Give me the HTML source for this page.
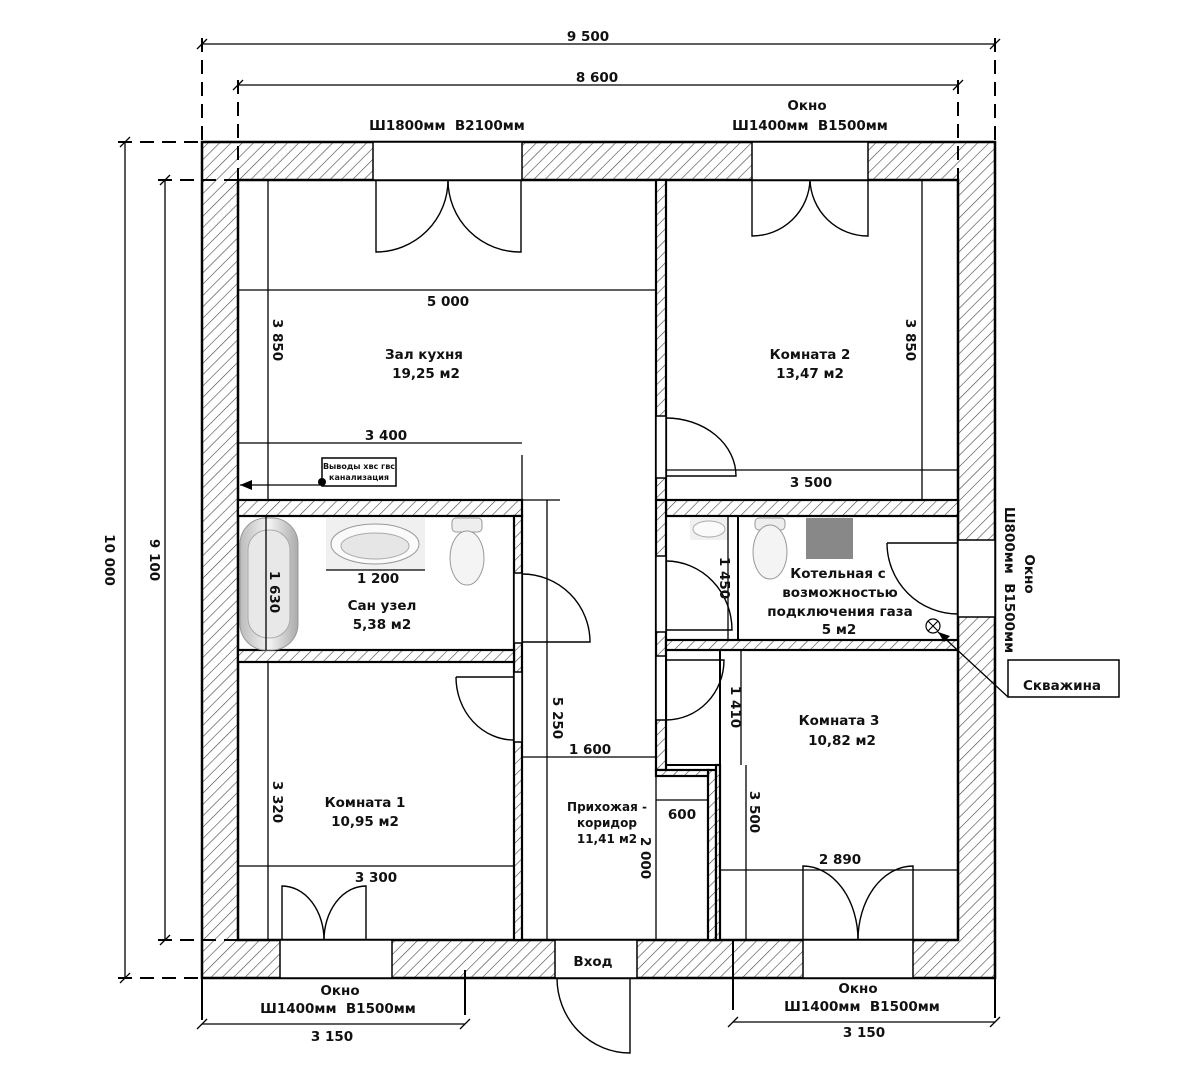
<!DOCTYPE html>
<html><head><meta charset="utf-8"><style>
html,body{margin:0;padding:0;background:#fff;}
svg{display:block;}
text{font-family:"DejaVu Sans","Liberation Sans",sans-serif;font-weight:bold;font-size:13.5px;fill:#111;white-space:pre;}
</style></head><body>
<svg width="1178" height="1080" viewBox="0 0 1178 1080" xmlns="http://www.w3.org/2000/svg">
<defs>
<pattern id="h" width="8" height="8" patternUnits="userSpaceOnUse" patternTransform="rotate(45)">
<rect width="8" height="8" fill="#fff"/><line x1="0" y1="0" x2="0" y2="8" stroke="#444" stroke-width="1.2"/>
</pattern>
<linearGradient id="tub" x1="0" x2="1"><stop offset="0" stop-color="#bbb"/><stop offset=".5" stop-color="#f4f4f4"/><stop offset="1" stop-color="#aaa"/></linearGradient>
</defs>

<path d="M202 142 H995 V978 H202 Z M238 180 V940 H958 V180 Z" fill="url(#h)" fill-rule="evenodd" stroke="#000" stroke-width="2.5"/>
<g fill="url(#h)" stroke="#000" stroke-width="2.2">
<rect x="656" y="180" width="10" height="320"/>
<rect x="238" y="500" width="284" height="16"/>
<rect x="514" y="516" width="8" height="424"/>
<rect x="238" y="650" width="276" height="12"/>
<rect x="666" y="500" width="292" height="16"/>
<rect x="656" y="500" width="10" height="270"/>
<rect x="666" y="640" width="292" height="10"/>
<rect x="708" y="770" width="8" height="170"/>
<rect x="656" y="770" width="52" height="6"/>
<rect x="716" y="765" width="4" height="175"/>
</g>
<g fill="#fff" stroke="#000" stroke-width="1.5">
<rect x="373" y="142" width="149" height="38"/>
<rect x="752" y="142" width="116" height="38"/>
<rect x="958" y="540" width="37" height="77"/>
<rect x="280" y="940" width="112" height="38"/>
<rect x="555" y="940" width="82" height="38"/>
<rect x="803" y="940" width="110" height="38"/>
<rect x="514" y="573" width="8" height="70"/>
<rect x="514" y="672" width="8" height="70"/>
<rect x="656" y="416" width="10" height="62"/>
<rect x="656" y="556" width="10" height="76"/>
<rect x="656" y="656" width="10" height="64"/>
</g>
<g stroke="#000" stroke-width="2" fill="none">
<line x1="738" y1="516" x2="738" y2="640"/>
<rect x="666" y="650" width="54" height="115"/>
</g>

<g stroke="#000" stroke-width="1.4" fill="none">
<path d="M376 180 V252 A72 72 0 0 0 448 180"/>
<path d="M521 180 V252 A72 72 0 0 1 448 180"/>
<path d="M752 180 V236 A58 58 0 0 0 810 180"/>
<path d="M868 180 V236 A58 58 0 0 1 810 180"/>
<path d="M666 418 A70 58 0 0 1 736 476 H666"/>
<path d="M522 574 A68 68 0 0 1 590 642 H522"/>
<path d="M456 677 H514 M456 677 A58 63 0 0 0 514 740"/>
<path d="M666 561 A66 69 0 0 1 732 630 H666"/>
<path d="M666 720 A58 60 0 0 0 724 660 H666"/>
<path d="M887 543 A71 71 0 0 0 958 614"/>
<path d="M887 543 H958"/>
<path d="M282 940 V886 A42 54 0 0 1 324 940"/>
<path d="M366 940 V886 A42 54 0 0 0 324 940"/>
<path d="M803 940 V866 A55 74 0 0 1 858 940"/>
<path d="M913 940 V866 A55 74 0 0 0 858 940"/>
<path d="M630 978 V1053 A73 75 0 0 1 557 978"/>
</g>

<rect x="240" y="518" width="58" height="132" rx="26" fill="url(#tub)" stroke="#999"/>
<rect x="248" y="530" width="42" height="108" rx="20" fill="#e8e8e8" stroke="#aaa"/>
<rect x="326" y="518" width="99" height="52" fill="#f0f0f0"/>
<ellipse cx="375" cy="544" rx="44" ry="20" fill="#fafafa" stroke="#999"/>
<ellipse cx="375" cy="546" rx="34" ry="13" fill="#e6e6e6" stroke="#aaa"/>
<rect x="452" y="518" width="30" height="14" rx="4" fill="#eee" stroke="#999"/>
<ellipse cx="467" cy="558" rx="17" ry="27" fill="#f4f4f4" stroke="#999"/>
<rect x="690" y="518" width="38" height="22" fill="#f0f0f0"/>
<ellipse cx="709" cy="529" rx="16" ry="8" fill="#fafafa" stroke="#aaa"/>
<rect x="755" y="518" width="30" height="12" rx="4" fill="#eee" stroke="#999"/>
<ellipse cx="770" cy="552" rx="17" ry="27" fill="#f4f4f4" stroke="#999"/>
<rect x="806" y="518" width="47" height="41" fill="#888"/>
<circle cx="933" cy="626" r="7" fill="none" stroke="#000" stroke-width="1.2"/>
<path d="M928 621 L938 631 M938 621 L928 631" stroke="#000" stroke-width="1.2"/>

<g stroke="#000" stroke-width="1.3" fill="none">
<line x1="202" y1="44" x2="995" y2="44"/>
<line x1="238" y1="85" x2="958" y2="85"/>
<path d="M202 38 V142 M995 38 V142 M238 80 V180 M958 80 V180" stroke-dasharray="14 8" stroke-width="2"/>
<line x1="125" y1="142" x2="125" y2="978"/>
<line x1="165" y1="180" x2="165" y2="940"/>
<path d="M118 142 H202 M118 978 H202 M158 180 H238 M158 940 H238" stroke-dasharray="14 8" stroke-width="2"/>
<line x1="238" y1="290" x2="656" y2="290"/>
<line x1="268" y1="180" x2="268" y2="500"/>
<line x1="238" y1="443" x2="522" y2="443"/>
<line x1="522" y1="455" x2="522" y2="500"/>
<line x1="522" y1="500" x2="560" y2="500"/>
<line x1="922" y1="180" x2="922" y2="500"/>
<line x1="666" y1="470" x2="958" y2="470"/>
<line x1="266" y1="516" x2="266" y2="650"/>
<line x1="326" y1="570" x2="425" y2="570"/>
<line x1="268" y1="662" x2="268" y2="940"/>
<line x1="238" y1="866" x2="514" y2="866"/>
<line x1="547" y1="500" x2="547" y2="940"/>
<line x1="522" y1="757" x2="656" y2="757"/>
<line x1="656" y1="760" x2="656" y2="940"/>
<line x1="728" y1="516" x2="728" y2="640"/>
<line x1="741" y1="650" x2="741" y2="765"/>
<line x1="746" y1="765" x2="746" y2="940"/>
<line x1="720" y1="870" x2="958" y2="870"/>
<line x1="656" y1="800" x2="708" y2="800"/>
<line x1="202" y1="1024" x2="465" y2="1024"/>
<line x1="733" y1="1022" x2="995" y2="1022"/>
<path d="M202 978 V1020 M465 970 V1015 M733 940 V1010 M995 978 V1018" stroke-width="2"/>
<path d="M197 49 L207 39 M990 49 L1000 39 M233 90 L243 80 M953 90 L963 80 M120 147 L130 137 M120 983 L130 973 M160 185 L170 175 M160 945 L170 935"/>
<path d="M197 1029 L207 1019 M460 1029 L470 1019 M728 1027 L738 1017 M990 1027 L1000 1017"/>
<line x1="240" y1="485" x2="322" y2="485"/>
<rect x="322" y="458" width="74" height="28" stroke-width="1.5"/>
<line x1="938" y1="632" x2="1008" y2="697"/>
<rect x="1008" y="660" width="111" height="37" stroke-width="1.5"/>
</g>
<path d="M240 485 L252 480 L252 490 Z" fill="#000"/>
<circle cx="322" cy="482" r="4" fill="#000"/>
<path d="M938 632 L950 636 L944 642 Z" fill="#000"/>

<text x="588" y="41" text-anchor="middle">9 500</text>
<text x="597" y="82" text-anchor="middle">8 600</text>
<text x="447" y="130" text-anchor="middle">Ш1800мм  В2100мм</text>
<text x="807" y="110" text-anchor="middle">Окно</text>
<text x="810" y="130" text-anchor="middle">Ш1400мм  В1500мм</text>
<text x="448" y="306" text-anchor="middle">5 000</text>
<text x="424" y="359" text-anchor="middle">Зал кухня</text>
<text x="426" y="378" text-anchor="middle">19,25 м2</text>
<text x="386" y="440" text-anchor="middle">3 400</text>
<text x="359" y="469" text-anchor="middle" style="font-size:8px">Выводы хвс гвс</text>
<text x="359" y="480" text-anchor="middle" style="font-size:8px">канализация</text>
<text x="810" y="359" text-anchor="middle">Комната 2</text>
<text x="810" y="378" text-anchor="middle">13,47 м2</text>
<text x="811" y="487" text-anchor="middle">3 500</text>
<text x="378" y="583" text-anchor="middle">1 200</text>
<text x="382" y="610" text-anchor="middle">Сан узел</text>
<text x="382" y="629" text-anchor="middle">5,38 м2</text>
<text x="838" y="578" text-anchor="middle">Котельная с</text>
<text x="840" y="597" text-anchor="middle">возможностью</text>
<text x="840" y="616" text-anchor="middle">подключения газа</text>
<text x="839" y="634" text-anchor="middle">5 м2</text>
<text x="1062" y="690" text-anchor="middle">Скважина</text>
<text x="839" y="725" text-anchor="middle">Комната 3</text>
<text x="842" y="745" text-anchor="middle">10,82 м2</text>
<text x="590" y="754" text-anchor="middle">1 600</text>
<text x="365" y="807" text-anchor="middle">Комната 1</text>
<text x="365" y="826" text-anchor="middle">10,95 м2</text>
<text x="607" y="811" text-anchor="middle" style="font-size:12px">Прихожая -</text>
<text x="607" y="827" text-anchor="middle" style="font-size:12px">коридор</text>
<text x="607" y="843" text-anchor="middle" style="font-size:12px">11,41 м2</text>
<text x="682" y="819" text-anchor="middle">600</text>
<text x="840" y="864" text-anchor="middle">2 890</text>
<text x="376" y="882" text-anchor="middle">3 300</text>
<text x="593" y="966" text-anchor="middle">Вход</text>
<text x="340" y="995" text-anchor="middle">Окно</text>
<text x="338" y="1013" text-anchor="middle">Ш1400мм  В1500мм</text>
<text x="858" y="993" text-anchor="middle">Окно</text>
<text x="862" y="1011" text-anchor="middle">Ш1400мм  В1500мм</text>
<text x="332" y="1041" text-anchor="middle">3 150</text>
<text x="864" y="1037" text-anchor="middle">3 150</text>
<text transform="translate(105,560) rotate(90)" text-anchor="middle">10 000</text>
<text transform="translate(150,560) rotate(90)" text-anchor="middle">9 100</text>
<text transform="translate(273,340) rotate(90)" text-anchor="middle">3 850</text>
<text transform="translate(906,340) rotate(90)" text-anchor="middle">3 850</text>
<text transform="translate(270,592) rotate(90)" text-anchor="middle">1 630</text>
<text transform="translate(273,802) rotate(90)" text-anchor="middle">3 320</text>
<text transform="translate(553,718) rotate(90)" text-anchor="middle">5 250</text>
<text transform="translate(641,858) rotate(90)" text-anchor="middle">2 000</text>
<text transform="translate(720,578) rotate(90)" text-anchor="middle">1 450</text>
<text transform="translate(731,707) rotate(90)" text-anchor="middle">1 410</text>
<text transform="translate(750,812) rotate(90)" text-anchor="middle">3 500</text>
<text transform="translate(1005,580) rotate(90)" text-anchor="middle">Ш800мм  В1500мм</text>
<text transform="translate(1025,574) rotate(90)" text-anchor="middle">Окно</text>
</svg>
</body></html>
